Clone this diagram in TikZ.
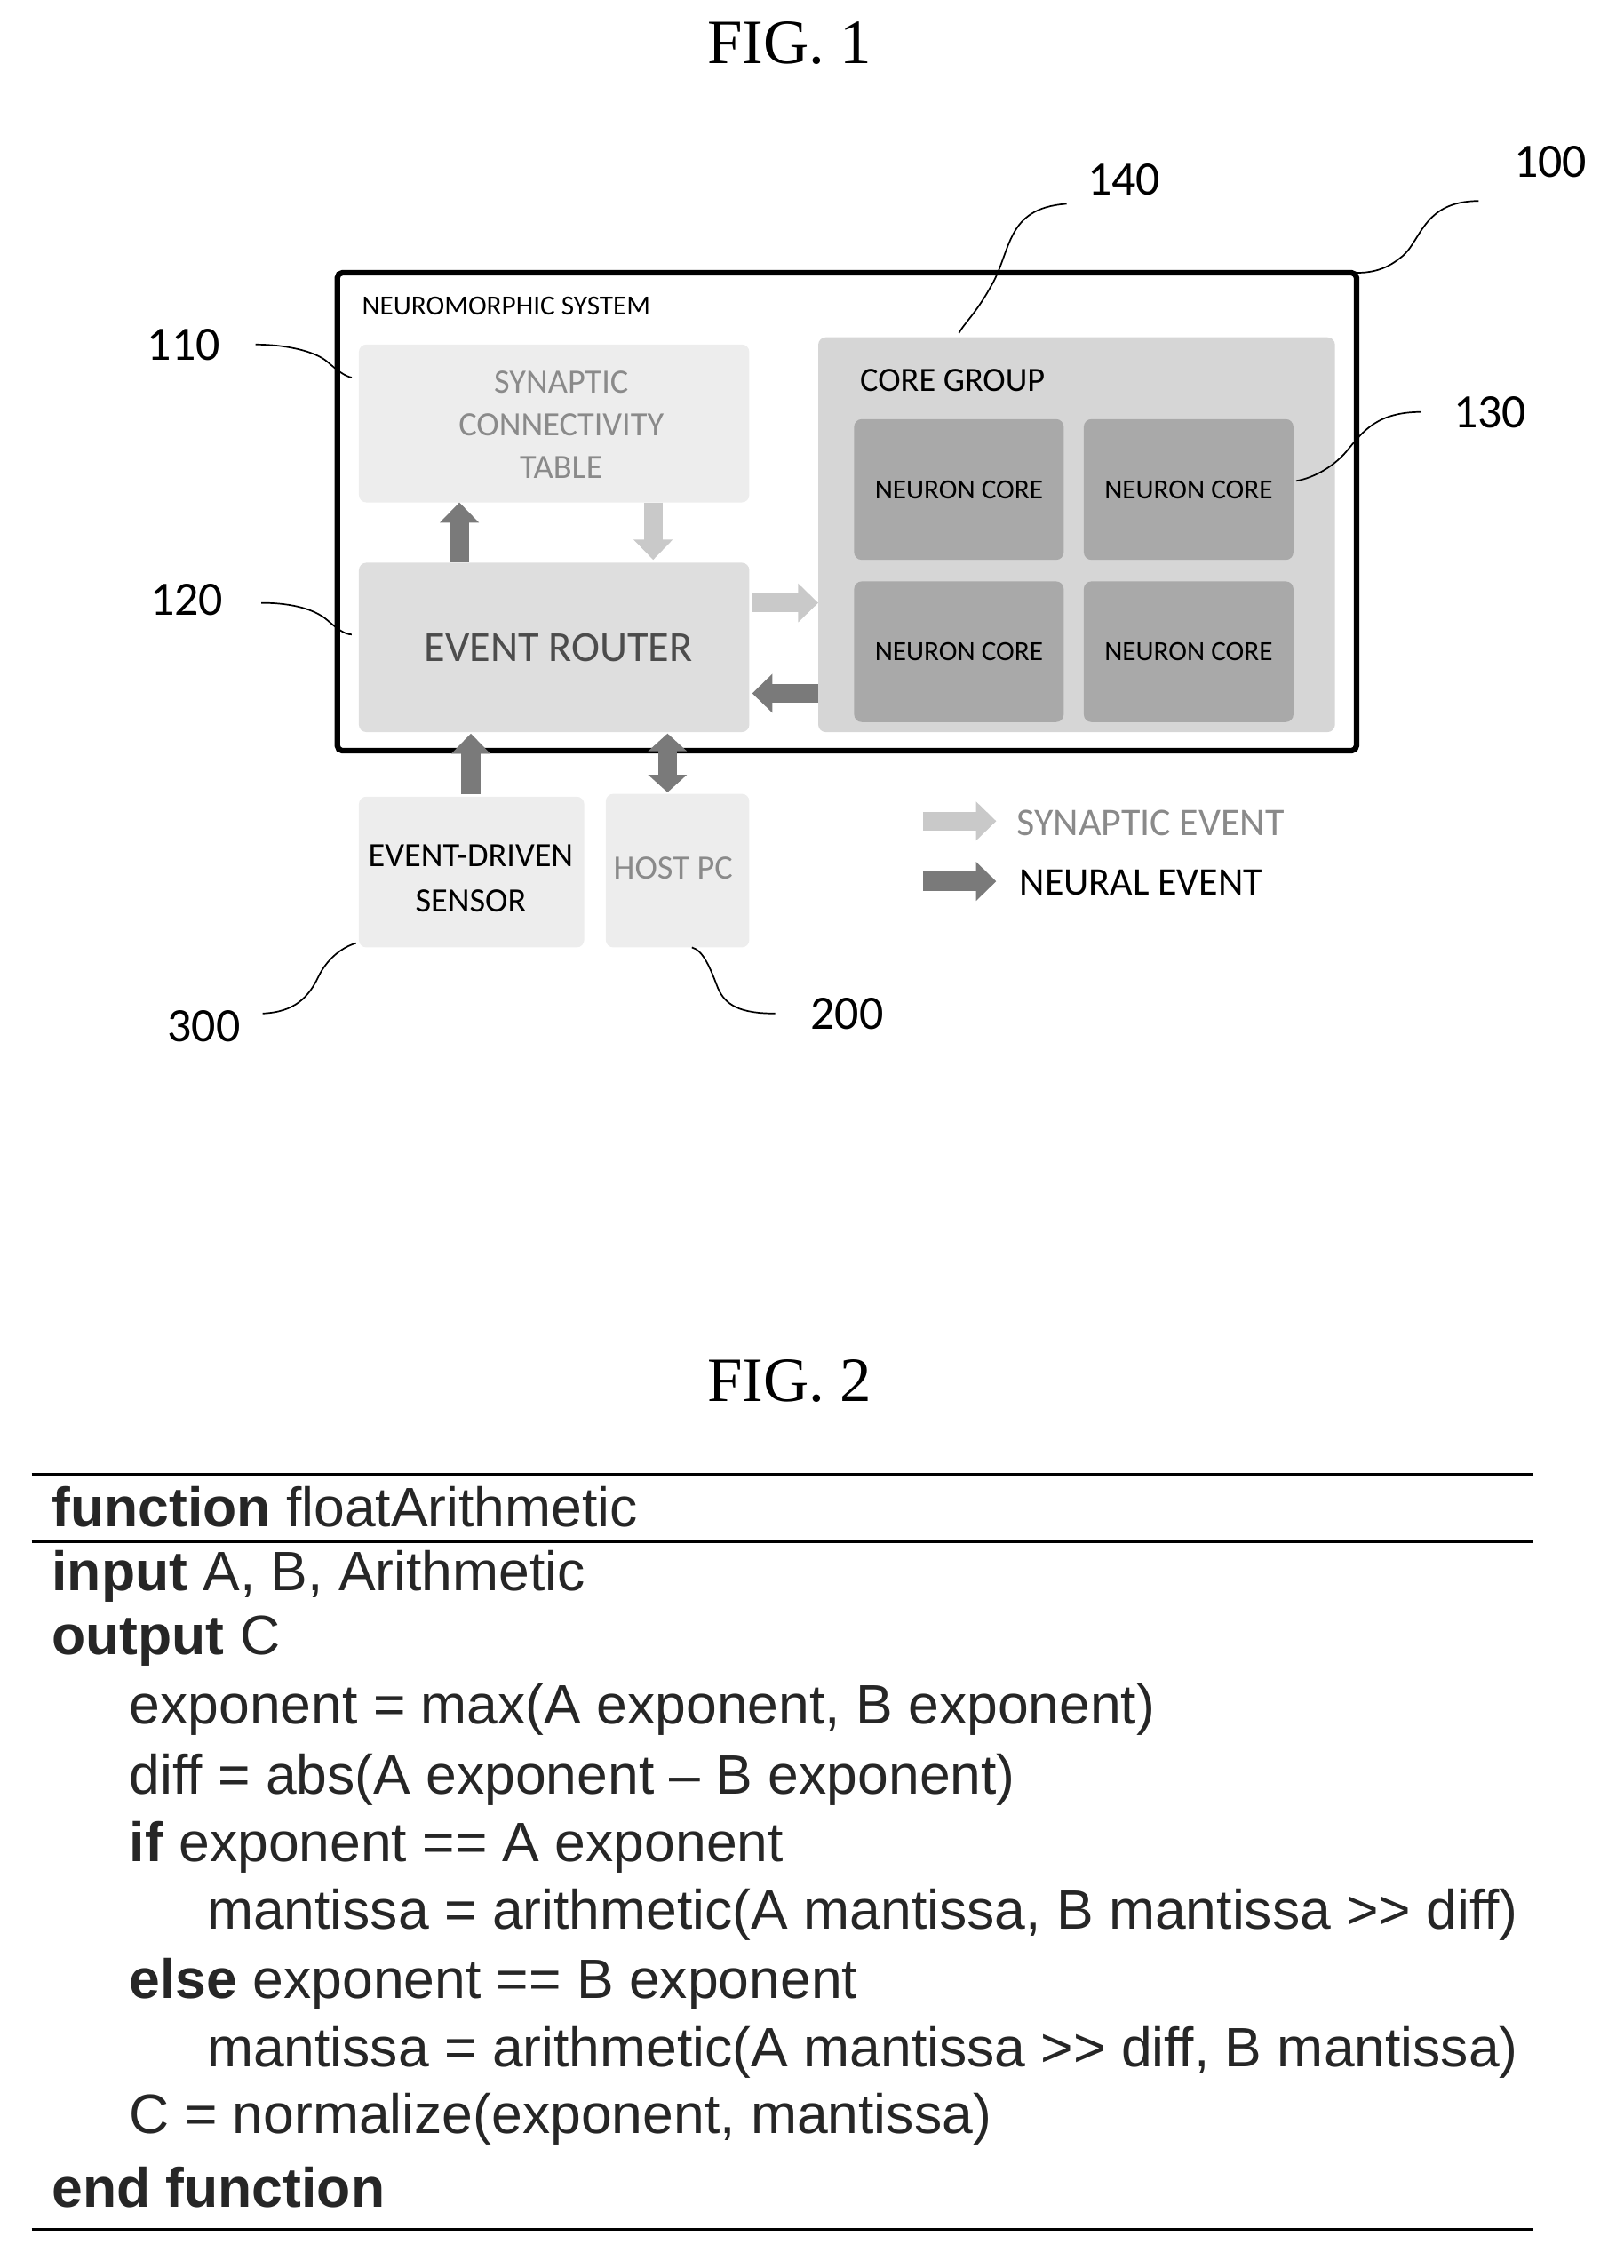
\documentclass[tikz,border=0pt]{standalone}
\usepackage{fontspec}
\setmainfont{Liberation Serif}
\newfontfamily\calfnt{Carlito}
\newfontfamily\arifnt{Liberation Sans}
\usetikzlibrary{arrows.meta}
\definecolor{lt}{HTML}{EDEDED}
\definecolor{md}{HTML}{DEDEDE}
\definecolor{cg}{HTML}{D6D6D6}
\definecolor{nc}{HTML}{A9A9A9}
\definecolor{la}{HTML}{C9C9C9}
\definecolor{da}{HTML}{7A7A7A}
\definecolor{tg}{HTML}{8A8A8A}
\begin{document}
\begin{tikzpicture}[x=0.02cm,y=-0.02cm,
  small/.style={font=\calfnt\fontsize{11}{13}\selectfont},
  mid/.style={font=\calfnt\fontsize{13.5}{16}\selectfont},
  num/.style={font=\calfnt\fontsize{19}{21}\selectfont},
  lead/.style={line width=0.6pt},
  blk/.style={line width=7.5pt,-{Triangle[width=15pt,length=8pt]}},
  dbl/.style={line width=7.5pt,{Triangle[width=15pt,length=7pt]}-{Triangle[width=15pt,length=7pt]}},
  code/.style={anchor=west,font=\arifnt\fontsize{22}{24}\selectfont,text=black!85}]
\useasboundingbox (0,0) rectangle (1131,1580);
\node[font=\fontsize{25}{28}\selectfont] (f1) at (550,30) {FIG. 1};
% outer
\draw[line width=2.2pt,rounded corners=2pt] (235,190) rectangle (945,523);
\node[small,anchor=west] (ns) at (246,213) {NEUROMORPHIC SYSTEM};
\fill[lt,rounded corners=3pt] (250,240) rectangle (522,350);
\node[mid,text=tg,align=center] (sct) at (391,296) {SYNAPTIC\\[1pt]CONNECTIVITY\\[1pt]TABLE};
\fill[md,rounded corners=3pt] (250,392) rectangle (522,510);
\node[font=\calfnt\fontsize{17}{20}\selectfont,text=black!70] (er) at (389,451) {EVENT ROUTER};
\fill[cg,rounded corners=3pt] (570,235) rectangle (930,510);
\node[mid,anchor=west] (cgl) at (593,265) {CORE GROUP};
\foreach \x/\y/\n in {595/292/a,755/292/b,595/405/c,755/405/d}{
  \fill[nc,rounded corners=3pt] (\x,\y) rectangle ++(146,98);
  \node[small] (nc\n) at (\x+73,\y+49) {NEURON CORE};}
% arrows
\coordinate (u1a) at (320,392); \coordinate (u1b) at (320,350);
\draw[blk,da] (u1a) -- (u1b);
\coordinate (d1a) at (455,350); \coordinate (d1b) at (455,390);
\draw[blk,la] (d1a) -- (d1b);
\coordinate (r1a) at (524,420); \coordinate (r1b) at (570,420);
\draw[blk,la] (r1a) -- (r1b);
\coordinate (l1a) at (570,483); \coordinate (l1b) at (524,483);
\draw[blk,da] (l1a) -- (l1b);
% sensor, host
\fill[lt,rounded corners=3pt] (250,555) rectangle (407,660);
\node[mid,align=center] (sen) at (328,612) {EVENT-DRIVEN\\[2pt]SENSOR};
\fill[lt,rounded corners=3pt] (422,553) rectangle (522,660);
\node[mid,text=tg] (host) at (469,605) {HOST PC};
\coordinate (s1) at (328,553); \coordinate (s2) at (328,511);
\draw[blk,da] (s1) -- (s2);
\coordinate (h1) at (465,552); \coordinate (h2) at (465,511);
\draw[dbl,da] (h1) -- (h2);
% legend
\coordinate (g1) at (643,572); \coordinate (g2) at (694,572);
\draw[blk,la] (g1) -- (g2);
\node[anchor=west,text=tg,font=\calfnt\fontsize{15.5}{18}\selectfont] (le1) at (702,573) {SYNAPTIC EVENT};
\coordinate (g3) at (643,614); \coordinate (g4) at (694,614);
\draw[blk,da] (g3) -- (g4);
\node[anchor=west,font=\calfnt\fontsize{15.5}{18}\selectfont] (le2) at (704,615) {NEURAL EVENT};
% reference numbers
\node[num] (n140) at (783,125) {140};
\node[num] (n100) at (1080,113) {100};
\node[num] (n110) at (128,240) {110};
\node[num] (n120) at (130,418) {120};
\node[num] (n130) at (1038,287) {130};
\node[num] (n300) at (142,715) {300};
\node[num] (n200) at (590,706) {200};
\coordinate (t140) at (668,232); \coordinate (t100) at (945,190);
\coordinate (t110) at (245,263); \coordinate (t120) at (245,442);
\coordinate (t130) at (903,335); \coordinate (t300) at (248,657);
\coordinate (t200) at (482,660);
\draw[lead] (743,142) .. controls (700,145) and (705,175) .. (690,200) .. controls (680,218) and (672,225) .. (t140);
\draw[lead] (1030,140) .. controls (990,140) and (990,170) .. (975,180) .. controls (965,188) and (955,190) .. (t100);
\draw[lead] (178,240) .. controls (200,240) and (220,245) .. (228,252) .. controls (235,258) and (240,262) .. (t110);
\draw[lead] (182,420) .. controls (205,420) and (220,425) .. (228,432) .. controls (235,438) and (240,442) .. (t120);
\draw[lead] (990,287) .. controls (960,287) and (950,300) .. (940,312) .. controls (930,325) and (915,333) .. (t130);
\draw[lead] (183,706) .. controls (205,705) and (215,695) .. (222,680) .. controls (228,668) and (238,660) .. (t300);
\draw[lead] (540,706) .. controls (515,706) and (505,700) .. (500,688) .. controls (495,675) and (490,662) .. (t200);
% FIG 2
\node[font=\fontsize{25}{28}\selectfont] (f2) at (550,962) {FIG. 2};
\coordinate (a1) at (22,1027); \coordinate (a2) at (1068,1027);
\coordinate (b1) at (22,1074); \coordinate (b2) at (1068,1074);
\coordinate (c1) at (22,1553); \coordinate (c2) at (1068,1553);
\draw[line width=1pt] (a1) -- (a2);
\draw[line width=1.3pt] (b1) -- (b2);
\draw[line width=1.3pt] (c1) -- (c2);
\node[code] (l1) at (30,1050) {\textbf{function} floatArithmetic};
\node[code] (l2) at (30,1098) {\textbf{input} A, B, Arithmetic};
\node[code] (l3) at (30,1143) {\textbf{output} C};
\node[code] (l4) at (84,1191) {exponent = max(A exponent, B exponent)};
\node[code] (l5) at (84,1240) {diff = abs(A exponent \textendash{} B exponent)};
\node[code] (l6) at (84,1287) {\textbf{if} exponent == A exponent};
\node[code] (l7) at (138,1334) {mantissa = arithmetic(A mantissa, B mantissa >> diff)};
\node[code] (l8) at (84,1382) {\textbf{else} exponent == B exponent};
\node[code] (l9) at (138,1430) {mantissa = arithmetic(A mantissa >> diff, B mantissa)};
\node[code] (l10) at (84,1476) {C = normalize(exponent, mantissa)};
\node[code] (l11) at (30,1524) {\textbf{end function}};
\end{tikzpicture}
\end{document}
